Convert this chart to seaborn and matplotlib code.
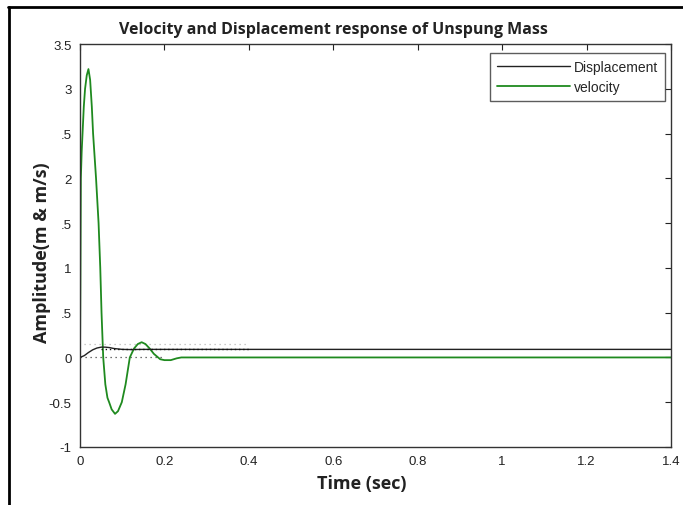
import numpy as np
import pandas as pd
import seaborn as sns
import matplotlib.pyplot as plt
from matplotlib.lines import Line2D

sns.set_style("white")
plt.rcParams['font.family'] = ['Liberation Sans', 'DejaVu Sans']

# ---- data ----
vel_t = [0.000, 0.001, 0.002, 0.004, 0.006, 0.009, 0.012, 0.016, 0.020, 0.024,
         0.028, 0.031, 0.038, 0.044, 0.048, 0.051, 0.055, 0.060, 0.065, 0.069,
         0.075, 0.083, 0.090, 0.099, 0.108, 0.118, 0.128, 0.137, 0.146, 0.155,
         0.165, 0.175, 0.190, 0.200, 0.215, 0.229, 0.240, 1.400]
vel_v = [0.00, 0.90, 2.00, 2.30, 2.50, 2.80, 3.00, 3.15, 3.22, 3.10,
         2.80, 2.50, 2.00, 1.50, 1.00, 0.50, 0.00, -0.30, -0.45, -0.50,
         -0.58, -0.63, -0.60, -0.50, -0.30, 0.00, 0.10, 0.15, 0.17, 0.15,
         0.10, 0.04, -0.02, -0.03, -0.03, -0.01, 0.00, 0.00]

disp_t = [0.000, 0.010, 0.020, 0.030, 0.040, 0.050, 0.060, 0.070, 0.080,
          0.090, 0.100, 0.120, 0.150, 1.400]
disp_v = [0.000, 0.020, 0.055, 0.085, 0.105, 0.115, 0.115, 0.110, 0.100,
          0.095, 0.090, 0.088, 0.090, 0.090]

dot_hi_t = [0.01, 0.40]
dot_hi_v = [0.15, 0.15]
dot_mid_t = [0.05, 0.40]
dot_mid_v = [0.09, 0.09]
dot_zero_t = [0.00, 0.20]
dot_zero_v = [0.00, 0.00]

x_ticks = [0, 0.2, 0.4, 0.6, 0.8, 1, 1.2, 1.4]
x_labels = ["0", "0.2", "0.4", "0.6", "0.8", "1", "1.2", "1.4"]
y_ticks = [3.5, 3, 2.5, 2, 1.5, 1, 0.5, 0, -0.5, -1]
y_labels = ["3.5", "3", ".5", "2", ".5", "1", ".5", "0", "-0.5", "-1"]

title = "Velocity and Displacement response of Unspung Mass"
x_title = "Time (sec)"
y_title = "Amplitude(m & m/s)"
series_names = ["Displacement", "velocity"]

green = "#1f8a1f"
black = "#222222"

# ---- figure ----
fig = plt.figure(figsize=(6.83, 5.06), dpi=100)
W, H = 683, 506
ax = fig.add_axes([80 / W, 1 - 448 / H, (671 - 80) / W, (448 - 45) / H])

sns.lineplot(x=dot_hi_t, y=dot_hi_v, ax=ax, color="#bbbbbb", lw=0.9,
             linestyle=(0, (1, 3)), estimator=None, sort=False)
sns.lineplot(x=dot_zero_t, y=dot_zero_v, ax=ax, color="#444444", lw=0.9,
             linestyle=(0, (1, 3)), estimator=None, sort=False)
sns.lineplot(x=vel_t, y=vel_v, ax=ax, color=green, lw=1.3,
             estimator=None, sort=False)
sns.lineplot(x=disp_t, y=disp_v, ax=ax, color=black, lw=1.0,
             estimator=None, sort=False)
sns.lineplot(x=dot_mid_t, y=dot_mid_v, ax=ax, color="#111111", lw=1.0,
             linestyle=(0, (1, 2)), estimator=None, sort=False)

ax.set_xlim(0, 1.4)
ax.set_ylim(-1, 3.5)
ax.set_xticks(x_ticks)
ax.set_xticklabels(x_labels)
ax.set_yticks(y_ticks)
ax.set_yticklabels(y_labels)
ax.tick_params(direction="in", length=4, width=0.8, top=True, right=True,
               labelsize=9.5, colors="#222222", pad=6)
for s in ax.spines.values():
    s.set_color("#333333")
    s.set_linewidth(1.0)

ax.set_xlabel(x_title, fontsize=13, fontweight="bold", family=["Open Sans", "DejaVu Sans"],
              color="#222222")
ax.xaxis.set_label_coords((362 - 80) / (671 - 80), -0.09)
ax.set_ylabel(y_title, fontsize=13, fontweight="bold", family=["Open Sans", "DejaVu Sans"],
              color="#222222")
ax.yaxis.set_label_coords((42 - 80) / (671 - 80), 0.484)
ax.yaxis.label.set_va("center")
ax.xaxis.label.set_va("center")

fig.text(333 / W, 1 - 30 / H, title, ha="center", va="center", fontsize=11.5,
         fontweight="bold", family=["Open Sans", "DejaVu Sans"], color="#222222")

handles = [Line2D([], [], color=black, lw=1.0), Line2D([], [], color=green, lw=1.3)]
leg = ax.legend(handles, series_names, loc="upper right", fontsize=10,
                frameon=True, fancybox=False, edgecolor="#333333",
                borderpad=0.5, handlelength=5.2, handletextpad=0.3,
                labelspacing=0.45, borderaxespad=0,
                bbox_to_anchor=((665 - 80) / (671 - 80), (448 - 54) / (448 - 45)))
leg.get_frame().set_linewidth(1.0)

# screenshot border (top and left)
fig.add_artist(Line2D([8 / W, 1], [1 - 8 / H, 1 - 8 / H], color="black", lw=2.0,
                      transform=fig.transFigure))
fig.add_artist(Line2D([9 / W, 9 / W], [0, 1 - 8 / H], color="black", lw=2.0,
                      transform=fig.transFigure))

fig.savefig("out.png", dpi=100)
